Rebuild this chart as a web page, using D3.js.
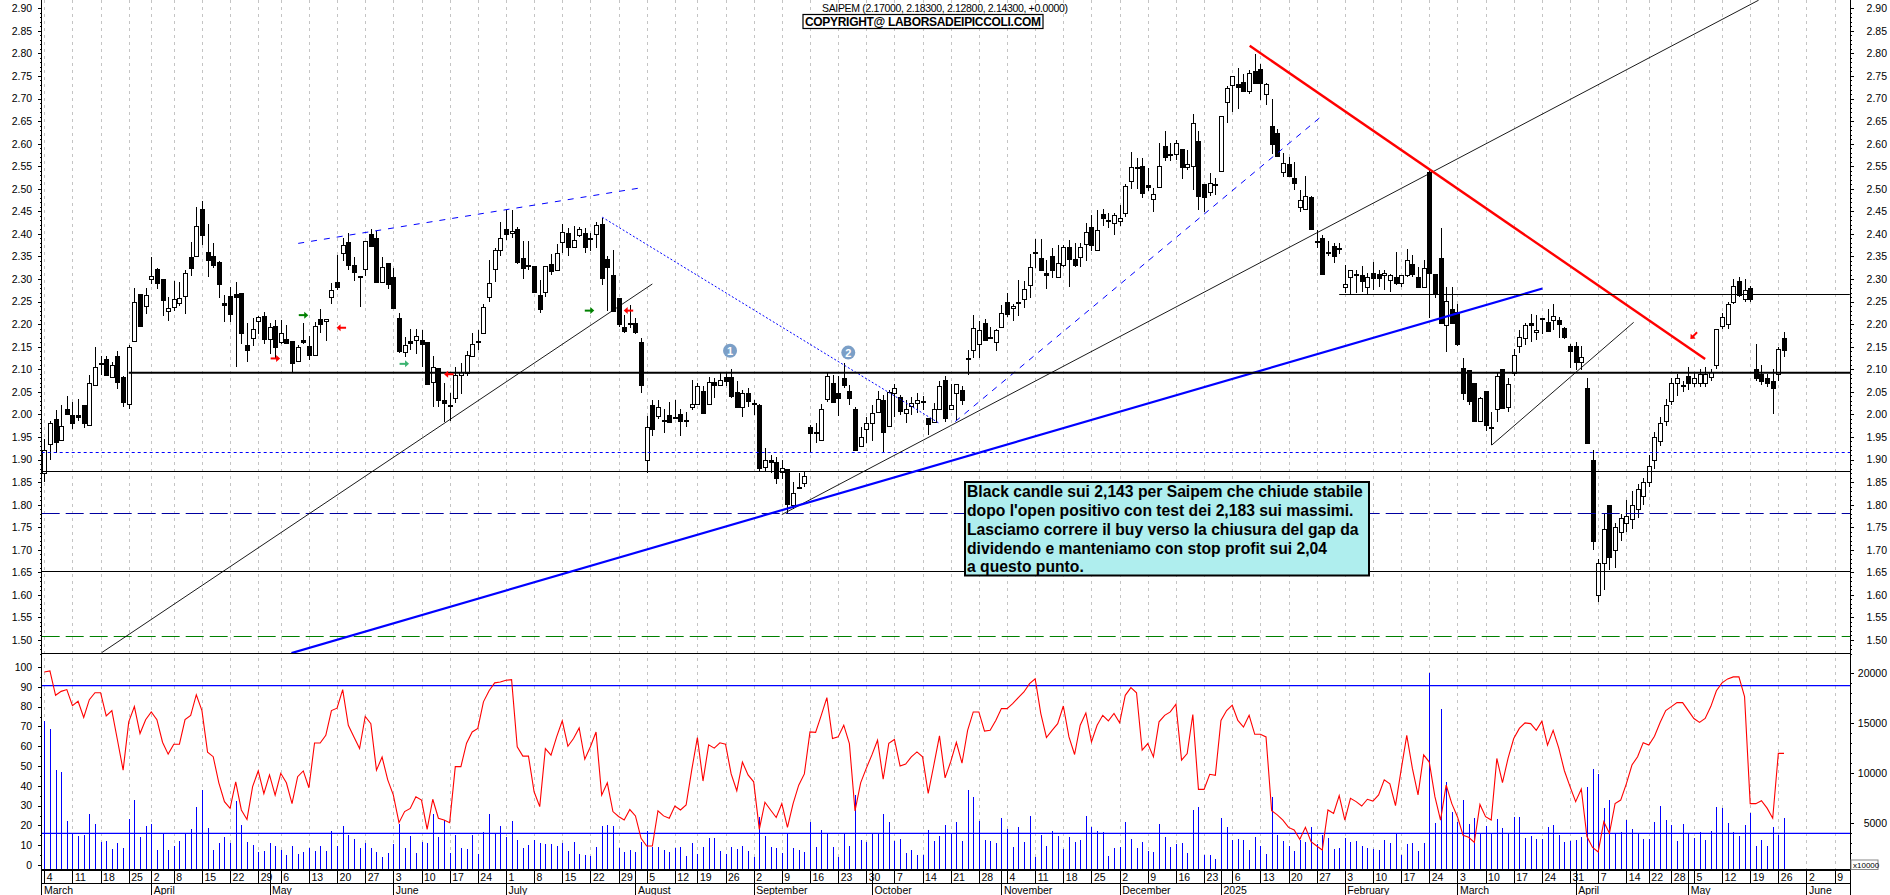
<!DOCTYPE html>
<html>
<head>
<meta charset="utf-8">
<title>SAIPEM</title>
<script src="https://cdn.jsdelivr.net/npm/d3@7"></script>
<style>
    html, body { margin: 0; padding: 0; background: #fff; overflow: hidden; }
    svg { display: block; }
    text { font-family: "Liberation Sans", Arial, sans-serif; fill: #000; }
</style>
</head>
<body>
<div id="chart"></div>
<script>
// daily prices (one entry per trading day, 4 March 2024 to 27 May 2025)
const opens = [
    1.87,1.934,1.99,1.945,2.011,1.998,1.999,2.02,1.976,2.065,
    2.115,2.122,2.084,2.13,2.082,2.022,2.163,2.266,2.24,2.30,
    2.322,2.30,2.228,2.237,2.245,2.261,2.349,2.35,2.455,2.361,
    2.351,2.338,2.246,2.262,2.266,2.269,2.153,2.169,2.206,2.218,
    2.166,2.196,2.159,2.168,2.163,2.117,2.164,2.152,2.132,2.211,
    2.208,2.259,2.293,2.358,2.381,2.33,2.306,2.322,2.399,2.391,
    2.294,2.335,2.304,2.213,2.138,2.162,2.164,2.164,2.16,2.07,
    2.102,2.031,2.02,2.035,2.086,2.091,2.128,2.163,2.181,2.259,
    2.322,2.366,2.41,2.401,2.411,2.346,2.33,2.329,2.265,2.27,
    2.333,2.319,2.381,2.402,2.37,2.397,2.401,2.39,2.399,2.422,
    2.344,2.31,2.257,2.193,2.202,2.202,2.16,1.90,2.02,1.995,
    1.988,1.998,1.994,2.001,1.988,2.015,2.022,2.052,2.022,2.071,
    2.066,2.082,2.082,2.049,2.017,2.047,2.026,2.02,1.885,1.90,
    1.895,1.873,1.878,1.80,1.84,1.848,1.971,1.96,1.943,2.036,
    2.069,2.047,2.08,2.052,2.011,1.928,1.967,1.98,2.006,2.032,
    1.975,2.047,2.039,2.002,2.019,2.027,2.03,1.991,1.984,2.013,
    2.076,2.011,2.047,2.055,2.124,2.143,2.157,2.203,2.172,2.16,
    2.194,2.25,2.235,2.25,2.255,2.285,2.359,2.347,2.313,2.35,
    2.304,2.331,2.37,2.344,2.35,2.377,2.416,2.364,2.444,2.431,
    2.426,2.43,2.446,2.516,2.548,2.551,2.508,2.477,2.505,2.595,
    2.577,2.576,2.588,2.55,2.549,2.606,2.511,2.492,2.511,2.54,
    2.692,2.729,2.732,2.737,2.715,2.76,2.766,2.709,2.64,2.623,
    2.538,2.555,2.525,2.46,2.457,2.481,2.385,2.392,2.36,2.373,
    2.369,2.282,2.304,2.311,2.31,2.282,2.313,2.311,2.308,2.296,
    2.304,2.292,2.308,2.333,2.304,2.281,2.538,2.311,2.347,2.198,
    2.233,2.226,2.102,2.098,2.069,1.986,2.052,1.971,2.01,2.10,
    2.017,2.091,2.15,2.17,2.202,2.183,2.213,2.204,2.208,2.21,
    2.191,2.152,2.152,2.117,2.058,1.90,1.60,1.67,1.80,1.70,
    1.74,1.76,1.77,1.79,1.82,1.85,1.90,1.94,1.985,2.03,
    2.07,2.065,2.085,2.07,2.07,2.07,2.085,2.11,2.195,2.2,
    2.25,2.295,2.255,2.28,2.10,2.09,2.08,2.075,2.09,2.17
];
const closes = [
    1.92,1.98,1.938,1.975,2.00,1.98,1.995,1.98,2.069,2.106,
    2.112,2.087,2.11,2.073,2.026,2.149,2.249,2.195,2.264,2.306,
    2.291,2.254,2.235,2.255,2.257,2.313,2.325,2.417,2.398,2.343,
    2.331,2.289,2.241,2.223,2.26,2.181,2.143,2.189,2.215,2.166,
    2.193,2.15,2.18,2.16,2.115,2.149,2.159,2.132,2.197,2.201,
    2.212,2.275,2.282,2.375,2.331,2.314,2.303,2.384,2.373,2.293,
    2.327,2.288,2.235,2.139,2.154,2.157,2.173,2.155,2.067,2.104,
    2.03,2.025,2.02,2.087,2.093,2.131,2.155,2.162,2.238,2.291,
    2.364,2.392,2.399,2.406,2.338,2.323,2.327,2.271,2.234,2.328,
    2.318,2.357,2.404,2.37,2.386,2.41,2.37,2.388,2.419,2.303,
    2.327,2.23,2.20,2.185,2.20,2.181,2.064,1.973,1.966,2.016,
    1.988,1.983,1.992,1.986,1.986,2.022,2.062,2.004,2.071,2.064,
    2.076,2.073,2.039,2.016,2.047,2.03,2.025,1.88,1.90,1.895,
    1.86,1.882,1.80,1.826,1.84,1.863,1.958,1.959,2.011,2.086,
    2.026,2.036,2.064,2.037,1.921,1.949,1.98,2.002,2.035,1.961,
    2.05,2.058,2.008,2.011,2.025,2.033,2.029,1.978,2.013,2.064,
    1.991,2.02,2.067,2.032,2.124,2.191,2.188,2.165,2.17,2.186,
    2.224,2.224,2.24,2.25,2.277,2.326,2.357,2.32,2.308,2.319,
    2.335,2.37,2.344,2.33,2.372,2.404,2.375,2.409,2.435,2.431,
    2.443,2.436,2.506,2.548,2.545,2.491,2.503,2.488,2.551,2.571,
    2.575,2.601,2.547,2.556,2.645,2.483,2.483,2.512,2.509,2.662,
    2.723,2.749,2.726,2.718,2.756,2.734,2.734,2.732,2.599,2.573,
    2.558,2.528,2.514,2.475,2.485,2.41,2.384,2.313,2.358,2.35,
    2.368,2.288,2.319,2.311,2.296,2.304,2.301,2.303,2.313,2.308,
    2.291,2.31,2.342,2.311,2.281,2.324,2.314,2.268,2.203,2.251,
    2.203,2.154,2.047,2.03,1.984,2.037,1.977,1.968,2.084,2.013,
    2.067,2.132,2.171,2.198,2.197,2.188,2.212,2.185,2.217,2.201,
    2.171,2.141,2.117,2.128,1.936,1.72,1.67,1.745,1.685,1.75,
    1.77,1.775,1.80,1.835,1.85,1.885,1.95,1.98,2.02,2.07,
    2.08,2.064,2.07,2.08,2.09,2.09,2.095,2.19,2.215,2.245,
    2.285,2.265,2.275,2.255,2.08,2.075,2.07,2.06,2.145,2.143
];
const highs = [
    1.945,1.985,2.01,2.02,2.04,2.028,2.035,2.02,2.087,2.15,
    2.13,2.13,2.117,2.14,2.084,2.154,2.28,2.266,2.28,2.348,
    2.324,2.30,2.26,2.296,2.293,2.32,2.381,2.459,2.474,2.422,
    2.38,2.34,2.265,2.283,2.294,2.269,2.203,2.213,2.217,2.228,
    2.202,2.209,2.209,2.198,2.163,2.154,2.203,2.174,2.204,2.234,
    2.212,2.291,2.353,2.391,2.401,2.348,2.306,2.384,2.41,2.407,
    2.348,2.335,2.325,2.225,2.171,2.189,2.19,2.186,2.16,2.13,
    2.102,2.069,2.047,2.106,2.113,2.141,2.18,2.187,2.245,2.342,
    2.368,2.426,2.452,2.452,2.415,2.384,2.384,2.329,2.298,2.328,
    2.355,2.378,2.421,2.412,2.418,2.416,2.412,2.401,2.427,2.435,
    2.351,2.364,2.257,2.22,2.243,2.213,2.169,1.996,2.032,2.033,
    2.011,2.028,2.032,2.013,2.006,2.076,2.069,2.063,2.082,2.08,
    2.093,2.093,2.10,2.073,2.054,2.058,2.032,2.022,1.925,1.91,
    1.905,1.899,1.878,1.85,1.87,1.875,1.977,1.98,2.022,2.091,
    2.087,2.084,2.113,2.065,2.016,1.973,1.995,2.021,2.052,2.043,
    2.053,2.068,2.043,2.032,2.038,2.048,2.041,1.991,2.025,2.073,
    2.084,2.068,2.067,2.063,2.143,2.221,2.206,2.211,2.193,2.19,
    2.243,2.27,2.245,2.298,2.296,2.355,2.388,2.388,2.342,2.368,
    2.375,2.375,2.387,2.379,2.379,2.425,2.442,2.452,2.455,2.446,
    2.446,2.464,2.511,2.581,2.568,2.568,2.545,2.501,2.601,2.628,
    2.601,2.608,2.588,2.587,2.666,2.628,2.511,2.536,2.523,2.662,
    2.728,2.75,2.767,2.754,2.763,2.798,2.777,2.734,2.698,2.633,
    2.58,2.571,2.56,2.497,2.528,2.485,2.409,2.398,2.385,2.379,
    2.379,2.331,2.319,2.32,2.329,2.313,2.337,2.32,2.32,2.311,
    2.361,2.31,2.366,2.353,2.327,2.342,2.542,2.311,2.412,2.283,
    2.282,2.245,2.126,2.098,2.069,2.039,2.052,2.005,2.093,2.10,
    2.08,2.146,2.186,2.202,2.222,2.22,2.214,2.233,2.245,2.215,
    2.194,2.157,2.16,2.152,2.08,1.92,1.68,1.78,1.80,1.76,
    1.78,1.81,1.83,1.845,1.86,1.91,1.96,1.995,2.035,2.08,
    2.09,2.075,2.105,2.095,2.10,2.105,2.10,2.19,2.225,2.25,
    2.30,2.305,2.30,2.285,2.155,2.11,2.09,2.10,2.15,2.183
];
const lows = [
    1.85,1.90,1.915,1.94,2.00,1.967,1.986,1.97,1.976,2.065,
    2.087,2.085,2.084,2.056,2.017,2.012,2.163,2.195,2.222,2.289,
    2.279,2.219,2.206,2.23,2.241,2.223,2.307,2.35,2.375,2.305,
    2.324,2.257,2.205,2.205,2.106,2.156,2.117,2.152,2.178,2.155,
    2.134,2.124,2.155,2.155,2.091,2.117,2.156,2.12,2.132,2.181,
    2.163,2.245,2.276,2.339,2.319,2.296,2.239,2.307,2.372,2.291,
    2.291,2.279,2.235,2.137,2.128,2.143,2.133,2.106,2.065,2.016,
    2.016,1.984,1.986,2.026,2.045,2.084,2.127,2.143,2.181,2.25,
    2.294,2.351,2.387,2.391,2.333,2.301,2.32,2.268,2.225,2.261,
    2.309,2.319,2.357,2.351,2.37,2.394,2.358,2.363,2.369,2.287,
    2.23,2.23,2.194,2.181,2.191,2.178,2.048,1.87,1.953,1.99,
    1.958,1.98,1.989,1.953,1.973,2.009,2.02,2.004,2.022,2.037,
    2.064,2.064,2.036,2.016,1.994,2.016,1.999,1.875,1.875,1.87,
    1.845,1.856,1.78,1.79,1.835,1.838,1.917,1.937,1.943,2.028,
    2.026,1.997,2.058,2.021,1.921,1.928,1.937,1.941,2.006,1.915,
    1.972,1.995,1.999,1.982,1.999,2.002,2.01,1.954,1.984,2.013,
    1.984,2.011,1.987,2.021,2.087,2.124,2.126,2.163,2.166,2.141,
    2.194,2.215,2.206,2.219,2.235,2.259,2.325,2.319,2.279,2.302,
    2.302,2.327,2.282,2.327,2.326,2.341,2.363,2.364,2.418,2.412,
    2.398,2.418,2.437,2.50,2.50,2.48,2.494,2.449,2.505,2.562,
    2.562,2.564,2.522,2.542,2.497,2.452,2.449,2.483,2.486,2.538,
    2.645,2.671,2.677,2.718,2.71,2.734,2.697,2.686,2.577,2.573,
    2.527,2.528,2.497,2.449,2.457,2.41,2.368,2.313,2.35,2.336,
    2.356,2.27,2.267,2.268,2.272,2.267,2.276,2.283,2.276,2.272,
    2.287,2.283,2.305,2.304,2.281,2.281,2.213,2.257,2.203,2.139,
    2.203,2.152,2.032,2.021,1.984,1.984,1.964,1.932,1.984,2.013,
    2.006,2.084,2.135,2.154,2.16,2.165,2.178,2.185,2.186,2.169,
    2.166,2.102,2.098,2.098,1.934,1.70,1.585,1.61,1.655,1.66,
    1.72,1.74,1.745,1.77,1.80,1.84,1.88,1.93,1.975,2.02,
    2.04,2.05,2.055,2.06,2.06,2.06,2.075,2.10,2.19,2.19,
    2.245,2.26,2.25,2.25,2.075,2.065,2.06,2.00,2.075,2.128
];

// lower panel: volume bars and the red oscillator
const volumes = [
    15170,14370,10270,10100,5170,3930,3670,3770,5870,4870,
    3070,3170,2370,2970,2470,5370,7270,3570,4670,4870,
    2270,3870,2270,2670,3170,3970,4370,6570,8270,4470,
    2270,2970,3570,2970,7170,4770,3070,2770,2070,2170,
    2970,2670,2270,1770,2670,1870,2070,2470,2170,2670,
    2170,4170,2670,4670,3770,3370,2470,2970,2470,2070,
    1570,1970,2870,4870,2470,3670,1970,3070,2970,5870,
    3570,5270,1970,3770,2470,2370,3770,1870,4070,5870,
    3870,4670,3570,5170,3270,2470,2770,3270,2970,2870,
    2870,2670,2970,2170,3070,1870,1770,1670,2570,4670,
    4770,4670,2470,2070,2270,2070,3070,4170,2600,2540,
    2270,2100,2470,2570,1670,2970,1870,2570,3470,3470,
    2170,1870,2570,2370,2670,2170,1570,5570,3670,2570,
    2470,1970,3970,2470,2270,2070,5070,2570,4270,3870,
    2570,1570,3970,2670,7770,3270,3070,3970,3870,5870,
    5070,3170,3370,1970,2270,1770,1770,4270,3170,3670,
    4770,3870,5070,3170,8270,7570,5170,3270,3170,2970,
    5470,4370,2570,4570,3070,5670,1570,3770,2670,4170,
    3670,2370,3570,3070,3270,5670,4570,4170,4070,1670,
    2470,2570,5070,3370,2470,3070,2170,2070,4870,3570,
    2570,2870,2970,1970,6270,6570,1770,1770,1370,5470,
    4570,3270,3370,3270,2270,3570,2670,1870,7570,3770,
    3170,2670,2170,3270,3070,4570,2900,3770,3470,2370,
    2470,3470,3070,3170,2670,2470,2370,2270,3270,2970,
    3870,1770,2870,2970,2170,2970,20000,4970,16370,9070,
    6070,5070,7270,4870,5470,3970,4670,3870,5370,4470,
    3870,5570,5570,3470,3670,3370,3370,4570,4770,3770,
    3070,3170,3300,3570,8570,10370,9870,6470,7270,3900,
    4070,5270,4370,3970,3370,3370,5070,6670,5270,4770,
    3170,4870,3970,3470,4070,3270,4170,6570,6470,4970,
    4070,3670,4770,5970,2670,3270,2670,4570,3770,5470
];
const rsi = [
    97.5,98,85.7,87.7,88.6,80.5,82.7,74.5,83.5,87,
    87,75.3,78,63,47.9,72.3,80,66.4,73.4,77.3,
    73.4,62,56,61,61,73.4,75.6,86,78,57,
    54.7,41.5,32,28.6,42,27.8,23,39.6,47.5,36,
    45.5,35.3,46.3,41.5,31,44.6,47.5,39,61.6,61.6,
    65.5,78,79.2,88.6,70.6,64.7,58.8,75,71.4,47.9,
    54.5,43,35.3,21.4,27,28.6,34.5,32.8,18,33.2,
    23.6,22.7,21.4,49.7,49.7,61.5,67.2,69,82.4,88,
    92,92.4,93.3,93.6,59.7,55,55,37,29.5,58.8,
    55.5,64.7,72.8,60,63.9,69.2,53.4,59.7,67.2,35.3,
    41.5,27,24.5,22.7,28,24.8,13.5,9.6,9.6,27.4,
    24.8,23.6,29.8,27.8,30.3,48,64.4,42.4,60.7,59,
    61.7,61,46,37.5,52,45.5,42,18,31.7,27.8,
    24,31,19,31,40.3,46,67.2,67,75.6,84.5,
    63.9,64.7,70.6,61.3,27.3,41.5,48.8,55.6,63,43.3,
    61.5,63.4,50,51,54.6,57.1,54.6,36.2,50.5,65.2,
    44,52.2,62,51.4,68,77.3,77.3,67.6,68,73,
    79,79,81.5,84.5,87.4,91.6,94,76.5,64.4,68,
    71.4,80.3,64.7,55.8,70.6,76.8,62.2,70.6,75.6,72.8,
    76.5,71.8,85.7,89.6,87,58,61.3,54.6,72.3,75.6,
    77.3,81.2,53,56.3,76,38.2,38.2,45.8,45.3,73,
    78,80.7,73,69.7,75.6,66,66,64.7,27.4,25.3,
    22.7,19,17.7,13,19,11.8,9.6,7.6,27.8,26,
    35,22.7,33.7,32,29.8,33.2,32.3,35.4,43,41,
    30,48,65.5,48.8,35.4,55.6,52,34.5,22.7,40.4,
    31,24.4,15,14,11.4,30.6,24.4,22.7,53.8,41.6,
    54,63.9,69,71.8,71.4,68,72.6,60.5,68,59,
    47.6,39.6,32,38.4,14.4,8.9,6.6,21.9,16,31,
    32.8,41,50.5,54.7,61.8,60.6,65,72,78,80,
    82,82,78,74,72,74,80,88,92,94,
    95,95,85,31,31,32.5,28.7,23.6,56.4,56.4
];

// x axis: weekly ticks and month starts, as trading day numbers
const weekIndex = [0,5,10,15,19,23,28,33,38,42,47,52,57,62,67,72,77,82,87,92,97,102,107,112,116,121,126,131,136,141,146,151,156,161,166,171,176,181,186,191,196,201,206,211,216,221,226,231,236,241,246,251,256,261,266,271,276,281,285,289,293,298,303,308,313,318];
const weekLabels = ['4','11','18','25','2','8','15','22','29','6','13','20','27','3','10','17','24','1','8','15','22','29','5','12','19','26','2','9','16','23','30','7','14','21','28','4','11','18','25','2','9','16','23','6','13','20','27','3','10','17','24','3','10','17','24','31','7','14','22','28','5','12','19','26','2','9'];
const monthIndex = [-0.5,19,40,62,82,105,126,147,170,191,209,231,251,272,292,313];
const monthLabels = ['March','April','May','June','July','August','September','October','November','December','2025','February','March','April','May','June'];

const priceTicks = d3.range(150, 295, 5).map(d => d / 100);
const priceMinorTicks = d3.range(147, 291, 1).map(d => d / 100);
const rsiTicks = d3.range(0, 101, 10);
const rsiMinorTicks = d3.range(0, 101, 5);
const volumeTicks = [5000, 10000, 15000, 20000];
const volumeMinorTicks = d3.range(1000, 20001, 1000);

// support and resistance levels
const levelBlack = [1.874, 1.6535];
const levelHeavy = 2.0925;
const levelDotted = 1.916;
const levelNavy = 1.7807;
const levelGreen = 1.5095;
const rsiUpper = 90.6;
const volumeAverage = 3940;

// drawn lines, as [trading day, price]
const trendSupportLeft = [[10.2, 1.472], [108, 2.289]];
const trendSupportLong = [[131, 1.778], [304.5, 2.918]];
const trendSupportMarch = [[257.1, 1.932], [282.3, 2.204]];
const trendBlueHeavy = [[43.9, 1.471], [266.1, 2.279]];
const trendRed = [[214.1, 2.817], [295, 2.123]];
const trendDashedTop = [[45.1, 2.379], [106.4, 2.503]];
const trendDottedDown = [[99.1, 2.437], [158.8, 1.9815]];
const trendDashedUp = [[161.8, 1.984], [226.6, 2.658]];
const rangeFloor = [230, 320.7];
const rangeFloorPrice = 2.266;

// small signal arrows and numbered markers
const arrowIndex = [41, 46, 52.8, 63.9, 71.9, 96.8, 103.8, 293];
const arrowPrice = [2.124, 2.22, 2.192, 2.112, 2.089, 2.23, 2.23, 2.175];
const arrowKind = ['redRight', 'greenRight', 'redLeft', 'tealRight', 'redLeft', 'greenRight', 'redLeft', 'redDown'];
const markerIndex = [121.8, 142.8];
const markerPrice = [2.141, 2.137];
const markerLabels = ['1', '2'];

const titleText = 'SAIPEM (2.17000, 2.18300, 2.12800, 2.14300, +0.0000)';
const copyrightText = 'COPYRIGHT@ LABORSADEIPICCOLI.COM';
const commentLines = [
    'Black candle sui 2,143 per Saipem che chiude stabile',
    "dopo l'open positivo con test dei 2,183 sui massimi.",
    'Lasciamo correre il buy verso la chiusura del gap da',
    'dividendo e manteniamo con stop profit sui 2,04',
    'a questo punto.'
];

const width = 1890;
const height = 895;
const axisLeftX = 41.7;
const axisRightX = 1850;
const axisBottomY = 870;
const panelBottomY = 653.5;

const x = d3.scaleLinear().domain([0, 309]).range([44.3, 44.3 + 5.63 * 309]);
const yPrice = d3.scaleLinear().domain([1.5, 2.9]).range([640, 8.3]);
const yRsi = d3.scaleLinear().domain([0, 100]).range([865, 667]);
const yVolume = d3.scaleLinear().domain([0, 20000]).range([872.7, 672.7]);

const svg = d3.select("#chart")
    .append("svg")
    .attr("width", width)
    .attr("height", height);

const defs = svg.append("defs");
defs.append("clipPath").attr("id", "priceClip").append("rect")
    .attr("x", axisLeftX).attr("y", 0)
    .attr("width", axisRightX - axisLeftX).attr("height", panelBottomY);
defs.append("clipPath").attr("id", "lowerClip").append("rect")
    .attr("x", axisLeftX).attr("y", panelBottomY)
    .attr("width", axisRightX - axisLeftX).attr("height", axisBottomY - panelBottomY);

// weekly dashed grid runs through both panels
svg.append("g").selectAll("line")
    .data(weekIndex)
    .join("line")
    .attr("x1", d => Math.round(x(d)) + 0.5)
    .attr("x2", d => Math.round(x(d)) + 0.5)
    .attr("y1", 0)
    .attr("y2", axisBottomY)
    .attr("stroke", "#c4c4c4")
    .attr("stroke-dasharray", "3 4")
    .attr("shape-rendering", "crispEdges");

// candles
const candles = d3.range(opens.length).map(i => ({
    i: i, open: opens[i], close: closes[i], high: highs[i], low: lows[i]
}));

const candleG = svg.append("g")
    .attr("clip-path", "url(#priceClip)")
    .attr("shape-rendering", "crispEdges");

candleG.selectAll(".wick")
    .data(candles)
    .join("line")
    .attr("class", "wick")
    .attr("x1", d => Math.round(x(d.i)) + 0.5)
    .attr("x2", d => Math.round(x(d.i)) + 0.5)
    .attr("y1", d => yPrice(d.high))
    .attr("y2", d => yPrice(d.low))
    .attr("stroke", "#000");

candleG.selectAll(".body")
    .data(candles)
    .join("rect")
    .attr("class", "body")
    .attr("x", d => Math.round(x(d.i)) - 1.5)
    .attr("y", d => Math.round(yPrice(Math.max(d.open, d.close))) + 0.5)
    .attr("width", 4)
    .attr("height", d => Math.max(1, Math.round(Math.abs(yPrice(d.open) - yPrice(d.close)))))
    .attr("fill", d => d.close >= d.open ? "#fff" : "#000")
    .attr("stroke", "#000");

// horizontal levels and trend lines, on top of the candles
const lineG = svg.append("g").attr("clip-path", "url(#priceClip)");

function addLevel(price, color, strokeWidth, dash) {
    lineG.append("line")
        .attr("x1", axisLeftX)
        .attr("x2", axisRightX)
        .attr("y1", Math.round(yPrice(price)) + 0.5)
        .attr("y2", Math.round(yPrice(price)) + 0.5)
        .attr("stroke", color)
        .attr("stroke-width", strokeWidth)
        .attr("stroke-dasharray", dash);
}

levelBlack.forEach(d => addLevel(d, "#000", 1, null));
addLevel(levelDotted, "#0000ff", 1, "3 3");
addLevel(levelNavy, "#0000a0", 1, "18 6");
addLevel(levelGreen, "#008000", 1, "18 6");

const priceLine = d3.line().x(d => x(d[0])).y(d => yPrice(d[1]));

function addTrend(points, color, strokeWidth, dash) {
    lineG.append("path")
        .attr("d", priceLine(points))
        .attr("fill", "none")
        .attr("stroke", color)
        .attr("stroke-width", strokeWidth)
        .attr("stroke-dasharray", dash);
}

addTrend(trendSupportLeft, "#000", 0.9, null);
addTrend(trendSupportLong, "#000", 0.9, null);
addTrend(trendSupportMarch, "#000", 0.9, null);
addTrend(trendDashedTop, "#0000ff", 1, "6 7");
addTrend(trendDottedDown, "#0000ff", 1, "2 2");
addTrend(trendDashedUp, "#0000ff", 1, "6 6");
addTrend(trendBlueHeavy, "#0000ff", 2.2, null);
addTrend(trendRed, "#ff0000", 2.4, null);

lineG.append("line")
    .attr("x1", x(rangeFloor[0]))
    .attr("x2", x(rangeFloor[1]))
    .attr("y1", Math.round(yPrice(rangeFloorPrice)) + 0.5)
    .attr("y2", Math.round(yPrice(rangeFloorPrice)) + 0.5)
    .attr("stroke", "#000");

// heavy line starts at the end of March
lineG.append("line")
    .attr("x1", x(15))
    .attr("x2", axisRightX)
    .attr("y1", yPrice(levelHeavy))
    .attr("y2", yPrice(levelHeavy))
    .attr("stroke", "#000")
    .attr("stroke-width", 2);

// signal arrows
const arrowStyle = {
    redRight: { color: "#ff0000", angle: 0 },
    redLeft: { color: "#ff0000", angle: 180 },
    redDown: { color: "#ff0000", angle: 135 },
    greenRight: { color: "#008000", angle: 0 },
    tealRight: { color: "#3cb371", angle: 0 }
};

const arrows = svg.append("g").selectAll("g")
    .data(arrowKind)
    .join("g")
    .attr("transform", (d, i) => `translate(${x(arrowIndex[i])},${yPrice(arrowPrice[i])}) rotate(${arrowStyle[d].angle})`);

arrows.append("line")
    .attr("x1", -4.5)
    .attr("x2", 2)
    .attr("stroke", d => arrowStyle[d].color)
    .attr("stroke-width", 2);

arrows.append("path")
    .attr("d", "M1,-3.5L5,0L1,3.5Z")
    .attr("fill", d => arrowStyle[d].color);

// numbered markers
const markers = svg.append("g").selectAll("g")
    .data(markerLabels)
    .join("g")
    .attr("transform", (d, i) => `translate(${x(markerIndex[i])},${yPrice(markerPrice[i])})`);

markers.append("circle")
    .attr("r", 7)
    .attr("fill", "#7b9fc7");

markers.append("text")
    .attr("text-anchor", "middle")
    .attr("dy", "0.36em")
    .attr("font-size", 11)
    .attr("font-weight", "bold")
    .style("fill", "#fff")
    .text(d => d);

// lower panel
const lowerG = svg.append("g").attr("clip-path", "url(#lowerClip)");

lowerG.append("g").selectAll("line")
    .data(volumes)
    .join("line")
    .attr("x1", (d, i) => Math.round(x(i)) + 0.5)
    .attr("x2", (d, i) => Math.round(x(i)) + 0.5)
    .attr("y1", yVolume(0))
    .attr("y2", d => yVolume(d))
    .attr("stroke", "#0000ff")
    .attr("shape-rendering", "crispEdges");

lowerG.append("line")
    .attr("x1", axisLeftX).attr("x2", axisRightX)
    .attr("y1", yRsi(rsiUpper)).attr("y2", yRsi(rsiUpper))
    .attr("stroke", "#0000ff").attr("stroke-width", 1.2);

lowerG.append("line")
    .attr("x1", axisLeftX).attr("x2", axisRightX)
    .attr("y1", yVolume(volumeAverage)).attr("y2", yVolume(volumeAverage))
    .attr("stroke", "#0000ff").attr("stroke-width", 1.2);

const rsiLine = d3.line().x((d, i) => x(i)).y(d => yRsi(d));

lowerG.append("path")
    .attr("d", rsiLine(rsi))
    .attr("fill", "none")
    .attr("stroke", "#ff0000")
    .attr("stroke-width", 1.1);

// left axes
function addAxis(axis, translateX, labelX, anchor) {
    const g = svg.append("g")
        .attr("transform", `translate(${translateX},0)`)
        .attr("shape-rendering", "crispEdges")
        .call(axis);
    g.select(".domain").remove();
    g.selectAll("line").attr("stroke", "#000");
    g.selectAll("text")
        .attr("x", labelX)
        .attr("text-anchor", anchor)
        .attr("font-size", 10.5)
        .attr("font-family", "Liberation Sans")
        .attr("shape-rendering", null);
    return g;
}

addAxis(d3.axisLeft(yPrice).tickValues(priceTicks).tickSize(4).tickFormat(d3.format(".2f")), axisLeftX, -9.5, "end");
addAxis(d3.axisLeft(yPrice).tickValues(priceMinorTicks).tickSize(2).tickFormat(""), axisLeftX, 0, "end");
addAxis(d3.axisLeft(yRsi).tickValues(rsiTicks).tickSize(4).tickFormat(d3.format("d")), axisLeftX, -9.5, "end");
addAxis(d3.axisLeft(yRsi).tickValues(rsiMinorTicks).tickSize(2).tickFormat(""), axisLeftX, 0, "end");

// right axes
addAxis(d3.axisRight(yPrice).tickValues(priceTicks).tickSize(4).tickFormat(d3.format(".2f")), axisRightX, 37, "end");
addAxis(d3.axisRight(yPrice).tickValues(priceMinorTicks).tickSize(2).tickFormat(""), axisRightX, 37, "end");
addAxis(d3.axisRight(yVolume).tickValues(volumeTicks).tickSize(4).tickFormat(d3.format("d")), axisRightX, 37, "end");
addAxis(d3.axisRight(yVolume).tickValues(volumeMinorTicks).tickSize(2).tickFormat(""), axisRightX, 37, "end");

// frame lines
const frame = svg.append("g")
    .attr("stroke", "#000")
    .attr("shape-rendering", "crispEdges");

frame.append("line").attr("x1", axisLeftX).attr("x2", axisLeftX).attr("y1", 0).attr("y2", height);
frame.append("line").attr("x1", axisRightX).attr("x2", axisRightX).attr("y1", 0).attr("y2", height);
frame.append("line").attr("x1", axisLeftX).attr("x2", axisRightX).attr("y1", panelBottomY).attr("y2", panelBottomY).attr("stroke-width", 1.5);
frame.append("line").attr("x1", axisLeftX).attr("x2", axisRightX).attr("y1", axisBottomY).attr("y2", axisBottomY).attr("stroke-width", 1.5);
frame.append("line").attr("x1", axisLeftX).attr("x2", axisRightX).attr("y1", 883.5).attr("y2", 883.5).attr("stroke-width", 1.5);

// week row
const weekAxis = svg.append("g")
    .attr("transform", `translate(0,${axisBottomY})`)
    .call(d3.axisBottom(x).tickValues(weekIndex).tickSize(13).tickFormat((d, i) => weekLabels[i]));
weekAxis.select(".domain").remove();
weekAxis.selectAll("line").attr("stroke", "#000").attr("shape-rendering", "crispEdges");
weekAxis.selectAll("text")
    .attr("x", 2)
    .attr("y", 7)
    .attr("dy", "0.36em")
    .attr("text-anchor", "start")
    .attr("font-size", 10.5)
    .attr("font-family", "Liberation Sans");

// month row
const monthAxis = svg.append("g")
    .attr("transform", `translate(0,${axisBottomY})`)
    .call(d3.axisBottom(x).tickValues(monthIndex).tickSize(25).tickFormat((d, i) => monthLabels[i]));
monthAxis.select(".domain").remove();
monthAxis.selectAll("line").attr("stroke", "#000").attr("shape-rendering", "crispEdges");
monthAxis.selectAll("text")
    .attr("x", 2)
    .attr("y", 20.5)
    .attr("dy", "0.36em")
    .attr("text-anchor", "start")
    .attr("font-size", 10.5)
    .attr("font-family", "Liberation Sans");

// volume multiplier box at the bottom right
svg.append("rect")
    .attr("x", 1851).attr("y", 860)
    .attr("width", 27).attr("height", 9.5)
    .attr("fill", "#fff")
    .attr("stroke", "#888");
svg.append("text")
    .attr("x", 1853).attr("y", 868)
    .attr("font-size", 8)
    .text("x10000");

// title and copyright
svg.append("text")
    .attr("x", 822).attr("y", 8)
    .attr("dy", "0.36em")
    .attr("font-size", 10.5)
    .attr("textLength", 246)
    .attr("lengthAdjust", "spacing")
    .text(titleText);

svg.append("rect")
    .attr("x", 803).attr("y", 14.5)
    .attr("width", 240).attr("height", 14)
    .attr("fill", "#fff")
    .attr("stroke", "#000")
    .attr("stroke-width", 1.2);

svg.append("text")
    .attr("x", 805).attr("y", 21.5)
    .attr("dy", "0.36em")
    .attr("font-size", 12)
    .attr("font-weight", "bold")
    .attr("textLength", 236)
    .attr("lengthAdjust", "spacing")
    .text(copyrightText);

// comment box
svg.append("rect")
    .attr("x", 965).attr("y", 482)
    .attr("width", 404).attr("height", 93.5)
    .attr("fill", "#afeeee")
    .attr("stroke", "#000")
    .attr("stroke-width", 2);

svg.append("g").selectAll("text")
    .data(commentLines)
    .join("text")
    .attr("x", 967)
    .attr("y", (d, i) => 491.7 + 18.75 * i)
    .attr("dy", "0.36em")
    .attr("font-size", 15.7)
    .attr("font-weight", "bold")
    .text(d => d);
</script>
</body>
</html>
